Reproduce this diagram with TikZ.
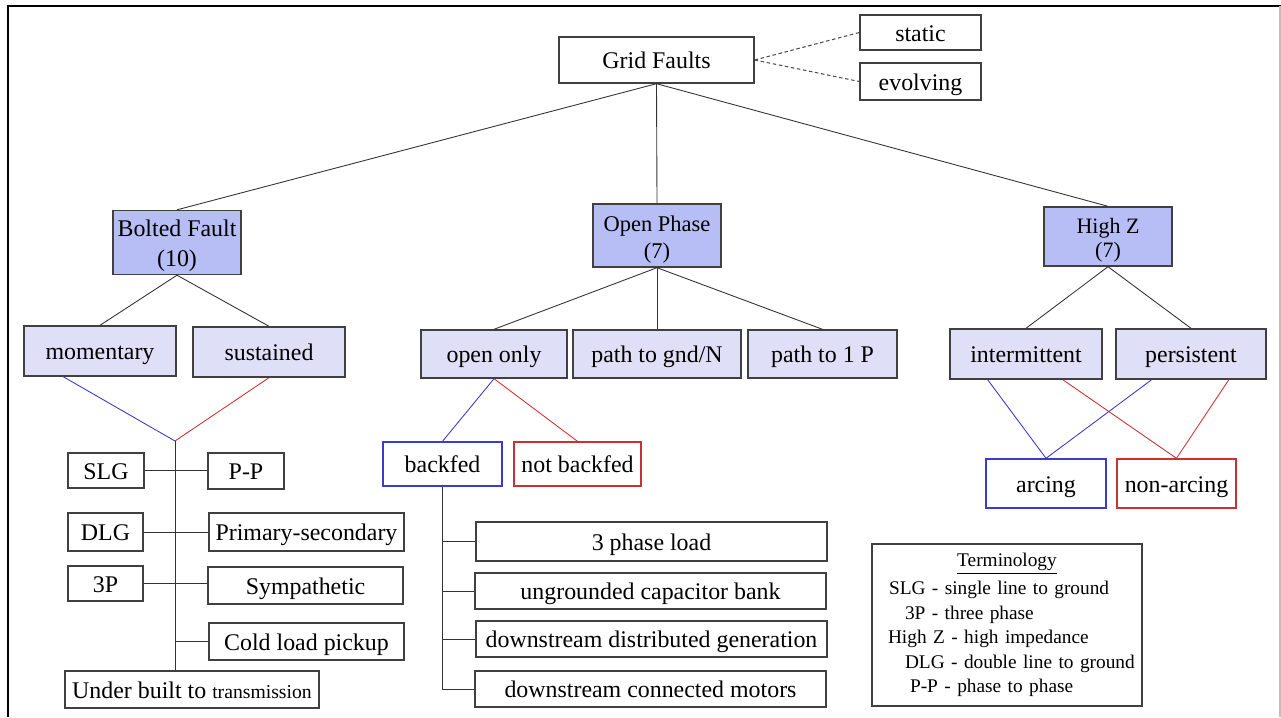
\documentclass[tikz,border=0pt]{standalone}
\usepackage{fontspec}
\setmainfont{Liberation Serif}
\usetikzlibrary{calc}
\definecolor{catfill}{RGB}{182,190,245}
\definecolor{subfill}{RGB}{223,224,247}
\definecolor{linkblue}{RGB}{60,60,200}
\definecolor{linkred}{RGB}{200,50,50}
\newcommand{\catstrut}{\rule{0pt}{13pt}}
\begin{document}
\begin{tikzpicture}[x=0.02cm,y=-0.02cm,
      font=\fontsize{13.6}{16}\selectfont,
      box/.style={draw=black!75,line width=0.8pt,inner sep=0pt,align=center,
        text height=12.4pt,text depth=2.6pt},
      catbox/.style={box,fill=catfill,minimum width=2.56cm,text height=,text depth=},
      subbox/.style={box,fill=subfill},
      bluebox/.style={box,draw=linkblue},
      redbox/.style={box,draw=linkred},
      link/.style={draw=black!80,line width=0.5pt},
      dashlink/.style={draw=black!70,line width=0.6pt,dash pattern=on 2pt off 1.5pt},
      bluelink/.style={draw=linkblue,line width=0.5pt},
      redlink/.style={draw=linkred,line width=0.5pt}]
      \useasboundingbox (0,0) rectangle (1281,717);
      % frame
      \draw[line width=1.1pt] (8,717) -- (8,6) -- (1281,6);
      \draw[black!25,line width=0.8pt] (1280,6) -- (1280,717);

      % root
      \path (656.5,60) node[box,minimum width=3.9cm,minimum height=0.92cm] (grid) {Grid Faults};
      \path (920.5,32.5) node[box,minimum width=2.42cm,minimum height=0.7cm] (static) {static};
      \path (920.5,81.5) node[box,minimum width=2.42cm,minimum height=0.74cm] (evolving) {evolving};
      \draw[dashlink] (grid.east) -- (static.west);
      \draw[dashlink] (grid.east) -- (evolving.west);

      % categories
      \path (177,242.5) node[catbox,minimum height=1.28cm,font=\fontsize{13.6}{17}\selectfont] (bolted) {\catstrut Bolted Fault\\(10)};
      \path (657,235.5) node[catbox,minimum height=1.26cm,font=\fontsize{12.8}{15.4}\selectfont] (open) {\catstrut Open Phase\\(7)};
      \path (1108,236.5) node[catbox,minimum height=1.18cm,font=\fontsize{12.5}{14}\selectfont] (highz) {\catstrut High Z\\(7)};
      \draw[link] (grid.south) -- (bolted.north);
      \draw[link] (grid.south) -- (open.north);
      \draw[link] (grid.south) -- (highz.north);

      % bolted fault
      \path (100,351) node[subbox,minimum width=3.04cm,minimum height=1cm] (moment) {momentary};
      \path (269,352) node[subbox,minimum width=3.04cm,minimum height=1cm] (sustain) {sustained};
      \draw[link] (bolted.south) -- (moment.north);
      \draw[link] (bolted.south) -- (sustain.north);
      \coordinate (bfjoin) at (175,441);
      \draw[bluelink] ($(moment.south west)!0.26!(moment.south east)$) -- (bfjoin);
      \draw[redlink] (sustain.south) -- (bfjoin);
      \path (106,470.5) node[box,minimum width=1.52cm,minimum height=0.7cm] (slg) {SLG};
      \path (246,471) node[box,minimum width=1.52cm,minimum height=0.72cm] (pp) {P-P};
      \path (105.5,532) node[box,minimum width=1.5cm,minimum height=0.76cm] (dlg) {DLG};
      \path (306.5,532) node[box,minimum width=3.9cm,minimum height=0.76cm] (primsec) {Primary-secondary};
      \path (105.5,583.5) node[box,minimum width=1.5cm,minimum height=0.7cm] (threep) {3P};
      \path (305.5,585.5) node[box,minimum width=3.9cm,minimum height=0.74cm] (sympa) {Sympathetic};
      \path (306.5,641.5) node[box,minimum width=3.9cm,minimum height=0.74cm] (cold) {Cold load pickup};
      \path (192,689.5) node[box,minimum width=5.08cm,minimum height=0.74cm] (under) {Under built to {\fontsize{11.2}{13}\selectfont transmission}};
      \draw[link] (bfjoin) -- (bfjoin |- under.north);
      \draw[link] (slg.east) -- (slg.east -| pp.west);
      \draw[link] (dlg.east) -- (dlg.east -| primsec.west);
      \draw[link] (threep.east) -- (threep.east -| sympa.west);
      \draw[link] (bfjoin |- cold.west) -- (cold.west);

      % open phase
      \path (494,354) node[subbox,minimum width=2.92cm,minimum height=0.96cm] (openonly) {open only};
      \path (657,354) node[subbox,minimum width=3.36cm,minimum height=0.96cm] (pathgnd) {path to gnd/N};
      \path (822.5,354) node[subbox,minimum width=2.98cm,minimum height=0.96cm] (pathp) {path to 1 P};
      \draw[link] (open.south) -- (openonly.north);
      \draw[link] (open.south) -- (pathgnd.north);
      \draw[link] (open.south) -- (pathp.north);
      \path (442.5,464) node[bluebox,minimum width=2.38cm,minimum height=0.88cm] (backfed) {backfed};
      \path (577.5,464) node[redbox,minimum width=2.54cm,minimum height=0.88cm] (notbackfed) {not backfed};
      \draw[bluelink] (openonly.south) -- (backfed.north);
      \draw[redlink] (openonly.south) -- (notbackfed.north);
      \path (651.5,541.5) node[box,minimum width=7.02cm,minimum height=0.78cm] (load) {3 phase load};
      \path (650.5,591) node[box,minimum width=7.02cm,minimum height=0.72cm] (capbank) {ungrounded capacitor bank};
      \path (651.5,639) node[box,minimum width=7.02cm,minimum height=0.72cm] (distgen) {downstream distributed generation};
      \path (650.5,689) node[box,minimum width=7.02cm,minimum height=0.72cm] (motors) {downstream connected motors};
      \draw[link] (backfed.south) -- (backfed.south |- motors.west) -- (motors.west);
      \draw[link] (backfed.south |- load.west) -- (load.west);
      \draw[link] (backfed.south |- capbank.west) -- (capbank.west);
      \draw[link] (backfed.south |- distgen.west) -- (distgen.west);

      % high z
      \path (1026,354) node[subbox,minimum width=3.04cm,minimum height=1cm] (intermit) {intermittent};
      \path (1191,354) node[subbox,minimum width=3cm,minimum height=1cm] (persist) {persistent};
      \draw[link] (highz.south) -- (intermit.north);
      \draw[link] (highz.south) -- (persist.north);
      \path (1046,483.5) node[bluebox,minimum width=2.4cm,minimum height=0.98cm] (arcing) {arcing};
      \path (1176.5,483.5) node[redbox,minimum width=2.38cm,minimum height=0.98cm] (nonarcing) {non-arcing};
      \draw[bluelink] ($(intermit.south west)!0.25!(intermit.south east)$) -- (arcing.north);
      \draw[bluelink] ($(persist.south west)!0.24!(persist.south east)$) -- (arcing.north);
      \draw[redlink] ($(intermit.south west)!0.74!(intermit.south east)$) -- (nonarcing.north);
      \draw[redlink] ($(persist.south west)!0.75!(persist.south east)$) -- (nonarcing.north);

      % terminology
      \path (1007,625) node[box,align=left,text width=5.4cm,minimum height=3.24cm,
        text height=,text depth=,font=\fontsize{11}{13.9}\selectfont] (term) {\makebox[\linewidth][c]{\underline{Terminology}}\\[2pt]
        \hspace*{0.34cm}SLG - single line to ground\\
        \hspace*{0.66cm}3P - three phase\\
        \hspace*{0.32cm}High Z - high impedance\\
        \hspace*{0.66cm}DLG - double line to ground\\
        \hspace*{0.76cm}P-P - phase to phase};
\end{tikzpicture}
\end{document}
